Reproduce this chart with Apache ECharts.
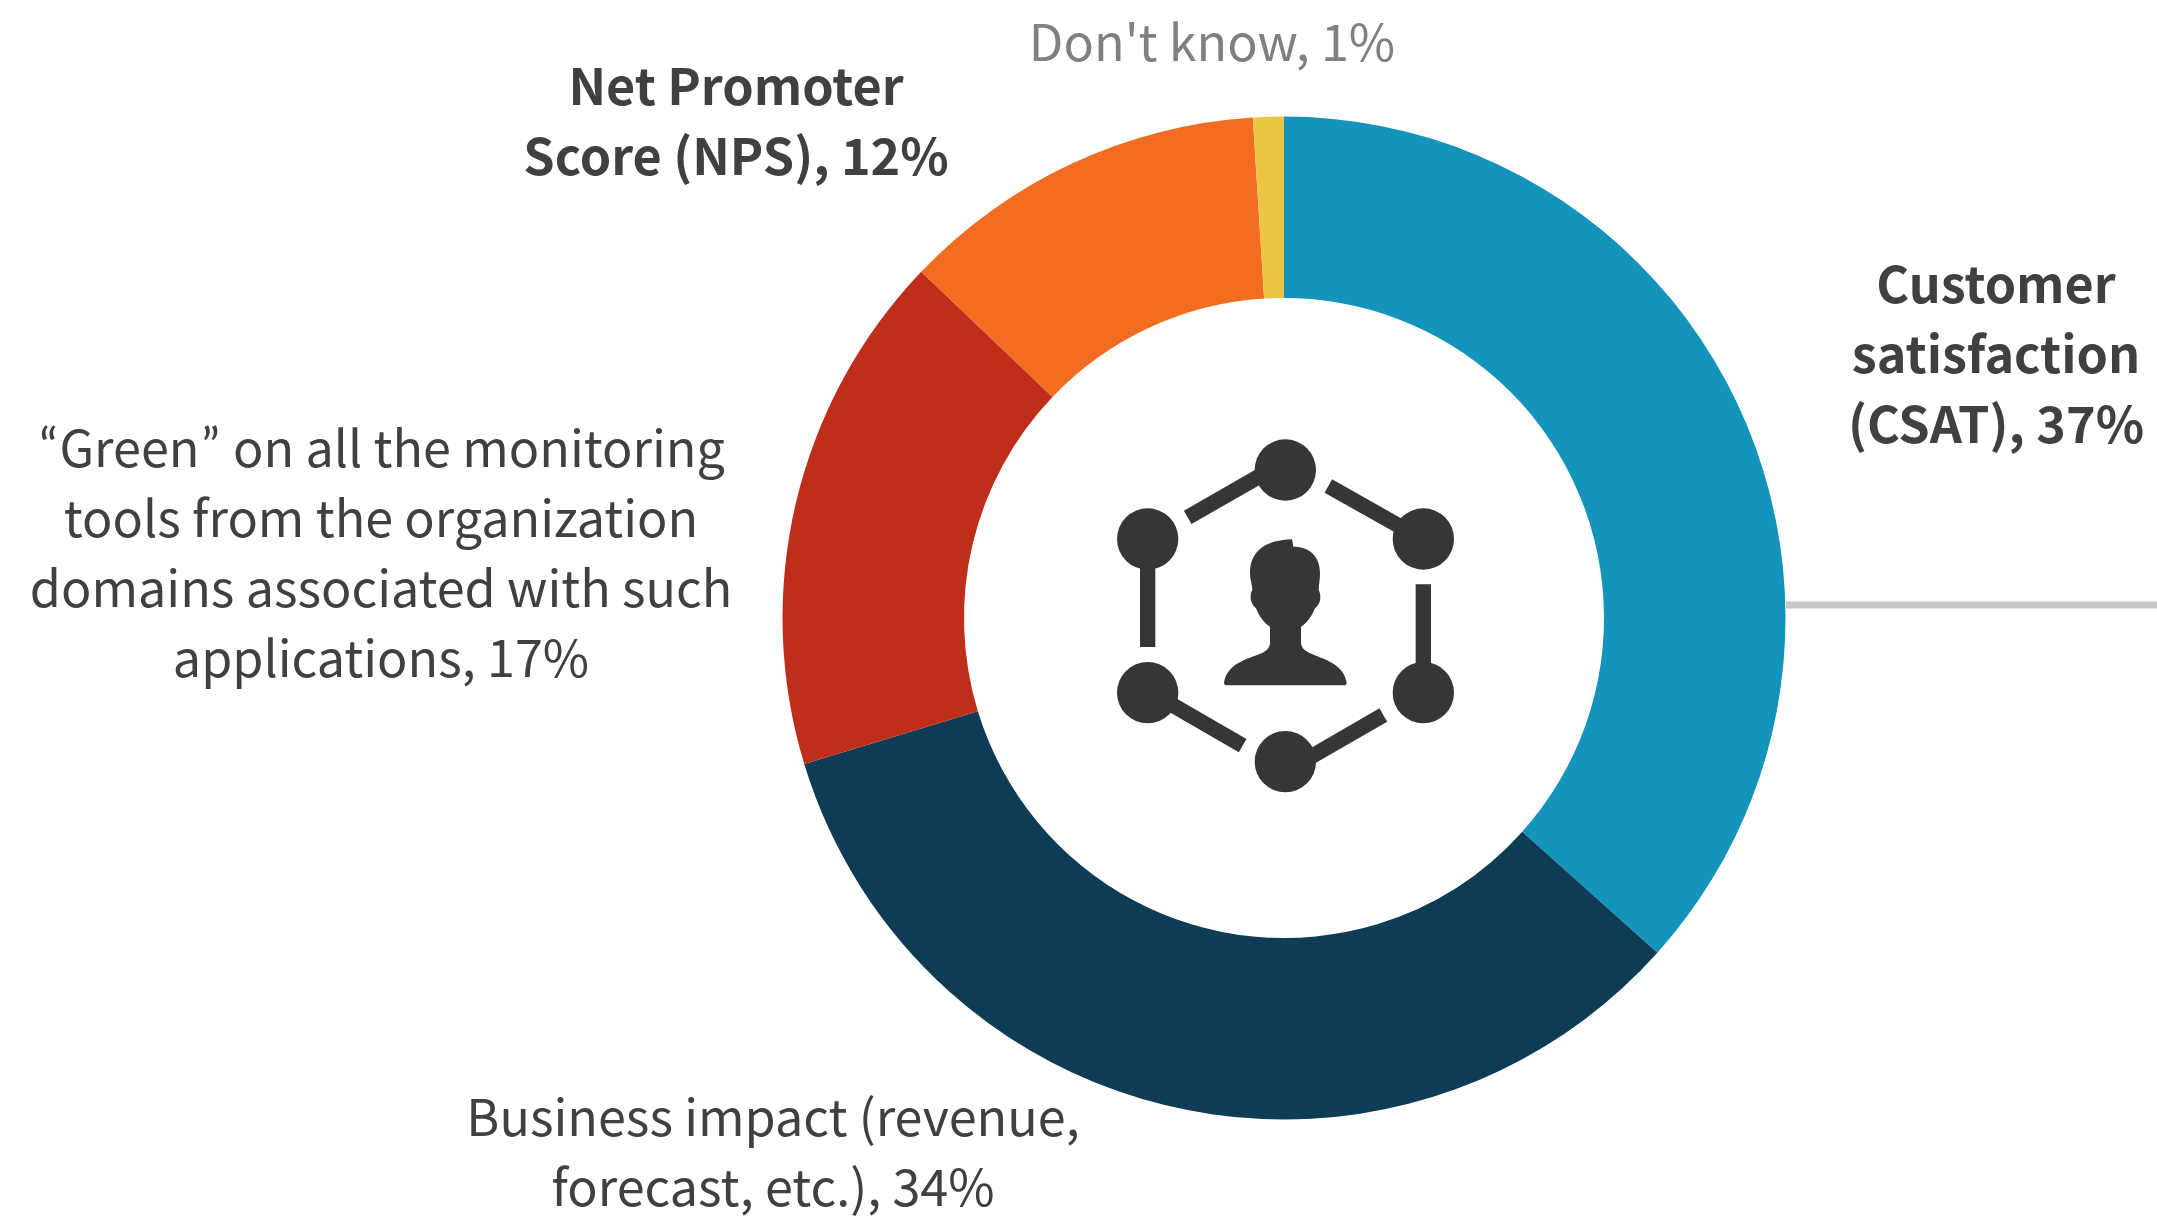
<!DOCTYPE html>
<html>
<head>
    <meta charset="utf-8">
    <title>Customer satisfaction</title>
    <style>
        html, body { margin: 0; padding: 0; background: #fff; }
        #chart1 { width: 2157px; height: 1217px; }
    </style>
    <script src="https://cdn.jsdelivr.net/npm/echarts@6/dist/echarts.min.js"></script>
</head>
<body>
<div id="chart1"></div>
<script type="text/javascript">
    var categories = [
        'Customer\nsatisfaction\n(CSAT)',
        'Business impact (revenue,\nforecast, etc.)',
        '“Green” on all the monitoring\ntools from the organization\ndomains associated with such\napplications',
        'Net Promoter\nScore (NPS)',
        "Don't know"
    ];
    var values = [37, 34, 17, 12, 1];
    var colors = ['#1494bb', '#0e3c55', '#bf2e1b', '#f26d21', '#ebc644'];
    var labelWeights = ['bold', 'normal', 'normal', 'bold', 'normal'];
    var labelColors = ['#404040', '#404040', '#404040', '#404040', '#808080'];
    var labelCentres = [[1996, 354], [773, 1152], [381, 553], [736, 121], [1212, 42]];

    // icon in the middle of the ring, drawn in 3x px of the crop at (1080,400)
    var nodes = [[616, 210], [1030, 417], [1030, 878], [616, 1085], [203, 878], [203, 417]];
    var spokes = [
        [323, 352, 545, 225],
        [745, 258, 965, 382],
        [1030, 553, 1030, 820],
        [910, 945, 690, 1072],
        [488, 1037, 265, 908],
        [203, 741, 203, 480]
    ];
    var personPath = 'M636 418L640 440C690 440 720 470 720 520C720 540 716 555 716 570C724 585 724 610 705 625' +
        'C695 650 680 670 663 680L663 730C665 745 675 752 690 760C730 778 790 790 800 848C800 853 797 856 790 856' +
        'L442 856C435 856 432 853 432 848C442 790 500 778 545 760C560 752 568 745 570 730L570 680' +
        'C553 670 538 650 528 625C510 610 508 585 517 570C517 555 510 540 510 520C510 450 560 420 636 418Z';

    var iconColor = '#363636';
    var iconElements = [];
    spokes.forEach(function (s) {
        iconElements.push({
            type: 'line',
            x: 1080, y: 400, scaleX: 1 / 3, scaleY: 1 / 3,
            shape: { x1: s[0], y1: s[1], x2: s[2], y2: s[3] },
            style: { stroke: iconColor, lineWidth: 46 }
        });
    });
    nodes.forEach(function (n) {
        iconElements.push({
            type: 'circle',
            x: 1080, y: 400, scaleX: 1 / 3, scaleY: 1 / 3,
            shape: { cx: n[0], cy: n[1], r: 92 },
            style: { fill: iconColor }
        });
    });
    // grey rule running off to the right of the ring
    iconElements.push({
        type: 'line',
        shape: { x1: 1786, y1: 605, x2: 2157, y2: 605 },
        style: { stroke: '#c5c7ca', lineWidth: 7 }
    });

    var seriesData = categories.map(function (name, i) {
        return {
            name: name,
            value: values[i],
            itemStyle: { color: colors[i] },
            label: { fontWeight: labelWeights[i], color: labelColors[i] }
        };
    });

    var myChart1 = echarts.init(document.getElementById('chart1'));
    myChart1.setOption({
        animation: false,
        backgroundColor: '#ffffff',
        graphic: { elements: iconElements },
        series: [
            {
                type: 'pie',
                radius: [320, 501.5],
                center: [1284, 618],
                startAngle: 90,
                clockwise: true,
                avoidLabelOverlap: false,
                silent: true,
                data: seriesData,
                label: {
                    show: true,
                    position: 'outside',
                    // the CJK font sets curly quotes full width, so they get their own font
                    formatter: function (params) {
                        var name = params.name.replace('“', '{q|“}').replace('”', '{q|”}');
                        return name + ', ' + params.value + '%';
                    },
                    rich: {
                        q: {
                            fontFamily: 'Lato',
                            fontSize: 50,
                            lineHeight: 70,
                            color: '#404040',
                            padding: [0, 2, 0, 2]
                        }
                    },
                    fontFamily: '"Noto Sans CJK SC"',
                    fontSize: 50.3,
                    lineHeight: 70,
                    align: 'center'
                },
                labelLine: { show: false },
                labelLayout: function (params) {
                    var c = labelCentres[params.dataIndex];
                    return { x: c[0], y: c[1], align: 'center', verticalAlign: 'middle' };
                }
            },
            {
                // person silhouette, graphic has no free path type so it goes here
                type: 'custom',
                coordinateSystem: 'none',
                silent: true,
                data: [0],
                renderItem: function () {
                    return {
                        type: 'path',
                        shape: {
                            pathData: personPath,
                            layout: 'cover',
                            x: 1224, y: 539.3, width: 122.7, height: 146
                        },
                        style: { fill: iconColor }
                    };
                }
            }
        ]
    });
</script>
</body>
</html>
